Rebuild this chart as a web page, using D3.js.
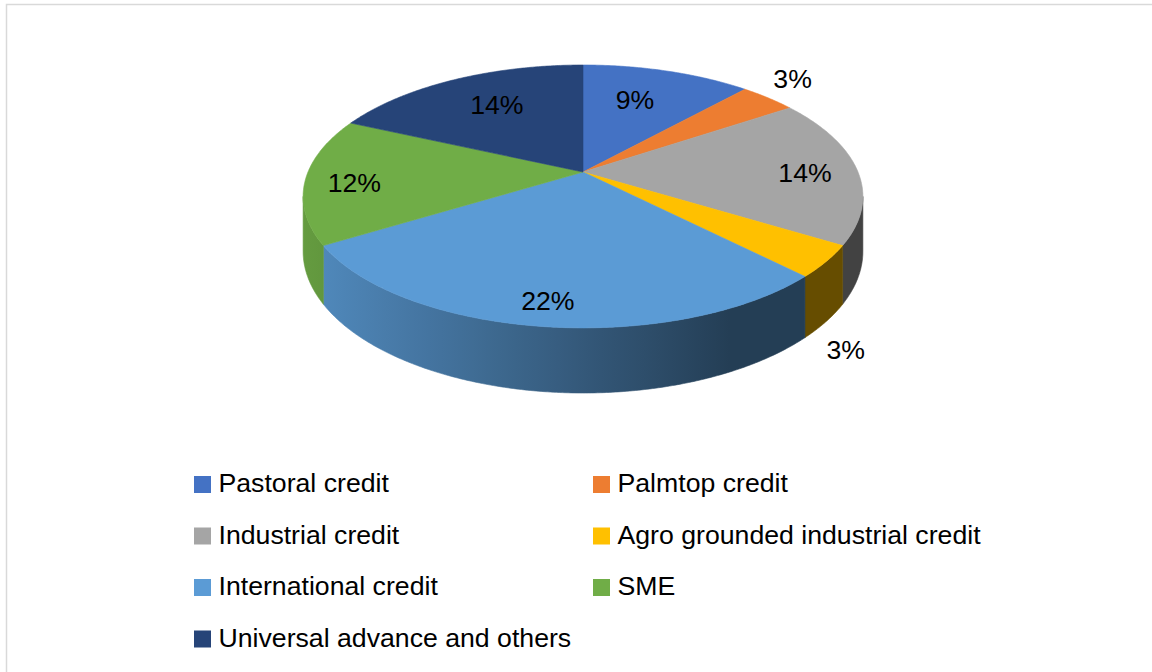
<!DOCTYPE html>
<html>
<head>
<meta charset="utf-8">
<script src="https://cdn.jsdelivr.net/npm/d3@7"></script>
<style>
  html, body { margin: 0; padding: 0; background: #ffffff; }
  svg { display: block; }
</style>
</head>
<body>
<svg id="chart" width="1152" height="672"></svg>
<script>
// Credit portfolio split, shown as a tilted 3-D pie
const categories = [
  "Pastoral credit",
  "Palmtop credit",
  "Industrial credit",
  "Agro grounded industrial credit",
  "International credit",
  "SME",
  "Universal advance and others"
];
const shares = [9, 3, 14, 3, 22, 12, 14];
const palette = ["#4472C4", "#ED7D31", "#A5A5A5", "#FFC000", "#5B9BD5", "#70AD47", "#264478"];

// label placement per slice: radius along the mid-angle, on top (z=0) or below the rim (z=1), and a vertical nudge
const labelPlacement = [
  { r: 0.58, z: 0, dy: -10 },
  { r: 1.15, z: 0, dy: -10 },
  { r: 0.81, z: 0, dy: 3 },
  { r: 1.07, z: 1, dy: 20 },
  { r: 0.876, z: 0, dy: -3 },
  { r: 0.825, z: 0, dy: 4 },
  { r: 0.637, z: 0, dy: -6 }
];

const svg = d3.select("#chart");
const defs = svg.append("defs");

// chart area frame
svg.append("rect")
  .attr("x", 6.5).attr("y", 4.5)
  .attr("width", 1170).attr("height", 700)
  .attr("fill", "none")
  .attr("stroke", "#d9d9d9")
  .attr("stroke-width", 1.5);

const color = d3.scaleOrdinal().domain(categories).range(palette);

// perspective projection of the pie disc
const cx = 583, cy = 172;   // pivot on screen
const RX = 275, RY = 126.9; // radii before perspective
const persp = 0.186;        // foreshortening strength
const depth = 53;           // thickness of the pie
function project(theta, r, z) {
  const u = r * Math.sin(theta), v = r * Math.cos(theta);
  const s = 1 / (1 + persp * v);
  return [cx + RX * u * s, cy - RY * v * s + depth * z * s];
}

const pie = d3.pie().sort(null).value(d => d.value).startAngle(0).endAngle(2 * Math.PI);
const arcs = pie(categories.map((c, i) => ({ name: c, value: shares[i] })));

const line = d3.line();
const step = Math.PI / 360;

// visible outer wall: between the two silhouette angles
const thetaL = Math.acos(-persp);
const thetaR = 2 * Math.PI - thetaL;

// side lighting: bright on the left, darkening toward the right
const light = d3.scaleLinear().domain([300, 730]).range([0.9, 0.4]).clamp(true);
function shaded(base, f) {
  const c = d3.rgb(base);
  return d3.rgb(c.r * f, c.g * f, c.b * f).formatHex();
}

const walls = svg.append("g").attr("class", "walls");
arcs.forEach((a, i) => {
  const a0 = Math.max(a.startAngle, thetaL);
  const a1 = Math.min(a.endAngle, thetaR);
  if (a1 <= a0) return;
  const n = Math.max(2, Math.ceil((a1 - a0) / step));
  const topEdge = d3.range(n + 1).map(k => project(a0 + (a1 - a0) * k / n, 1, 0));
  const bottomEdge = d3.range(n + 1).map(k => project(a0 + (a1 - a0) * k / n, 1, 1)).reverse();
  const base = color(a.data.name);

  const grad = defs.append("linearGradient")
    .attr("id", "wall-" + i)
    .attr("gradientUnits", "userSpaceOnUse")
    .attr("x1", 300).attr("y1", 0).attr("x2", 730).attr("y2", 0);
  d3.range(0, 1.0001, 0.1).forEach(t => {
    grad.append("stop")
      .attr("offset", t)
      .attr("stop-color", shaded(base, light(300 + 430 * t)));
  });

  walls.append("path")
    .attr("d", line(topEdge.concat(bottomEdge)) + "Z")
    .attr("fill", `url(#wall-${i})`)
    .attr("stroke", `url(#wall-${i})`)
    .attr("stroke-width", 0.6);
});

// top faces
const tops = svg.append("g").attr("class", "tops");
tops.selectAll("path")
  .data(arcs)
  .join("path")
  .attr("d", a => {
    const n = Math.max(2, Math.ceil((a.endAngle - a.startAngle) / step));
    const pts = [project(0, 0, 0)];
    for (let k = 0; k <= n; k++) {
      pts.push(project(a.startAngle + (a.endAngle - a.startAngle) * k / n, 1, 0));
    }
    return line(pts) + "Z";
  })
  .attr("fill", a => color(a.data.name))
  .attr("stroke", a => color(a.data.name))
  .attr("stroke-width", 0.6)
  .attr("stroke-linejoin", "round");

// data labels
const labelFont = "'Liberation Sans', Arial, sans-serif";
svg.append("g").attr("class", "labels")
  .selectAll("text")
  .data(arcs)
  .join("text")
  .each(function (a, i) {
    const lp = labelPlacement[i];
    const mid = (a.startAngle + a.endAngle) / 2;
    const [x, y] = project(mid, lp.r, lp.z);
    d3.select(this)
      .attr("x", x)
      .attr("y", y + lp.dy + 9.5);
  })
  .attr("text-anchor", "middle")
  .attr("font-family", labelFont)
  .attr("font-size", 26.67)
  .attr("fill", "#000000")
  .text(a => a.data.value + "%");

// legend: two columns, filled row by row
const legendCols = [194, 593];
const legendTop = 492.3, legendRow = 51.5;
const legend = svg.append("g").attr("class", "legend")
  .selectAll("g")
  .data(categories)
  .join("g")
  .attr("transform", (d, i) => `translate(${legendCols[i % 2]},${legendTop + Math.floor(i / 2) * legendRow})`);

legend.append("rect")
  .attr("x", 0).attr("y", -16.3)
  .attr("width", 17).attr("height", 17)
  .attr("fill", d => color(d));

legend.append("text")
  .attr("x", 24.5).attr("y", 0)
  .attr("font-family", labelFont)
  .attr("font-size", 26.67)
  .attr("fill", "#000000")
  .text(d => d);
</script>
</body>
</html>
